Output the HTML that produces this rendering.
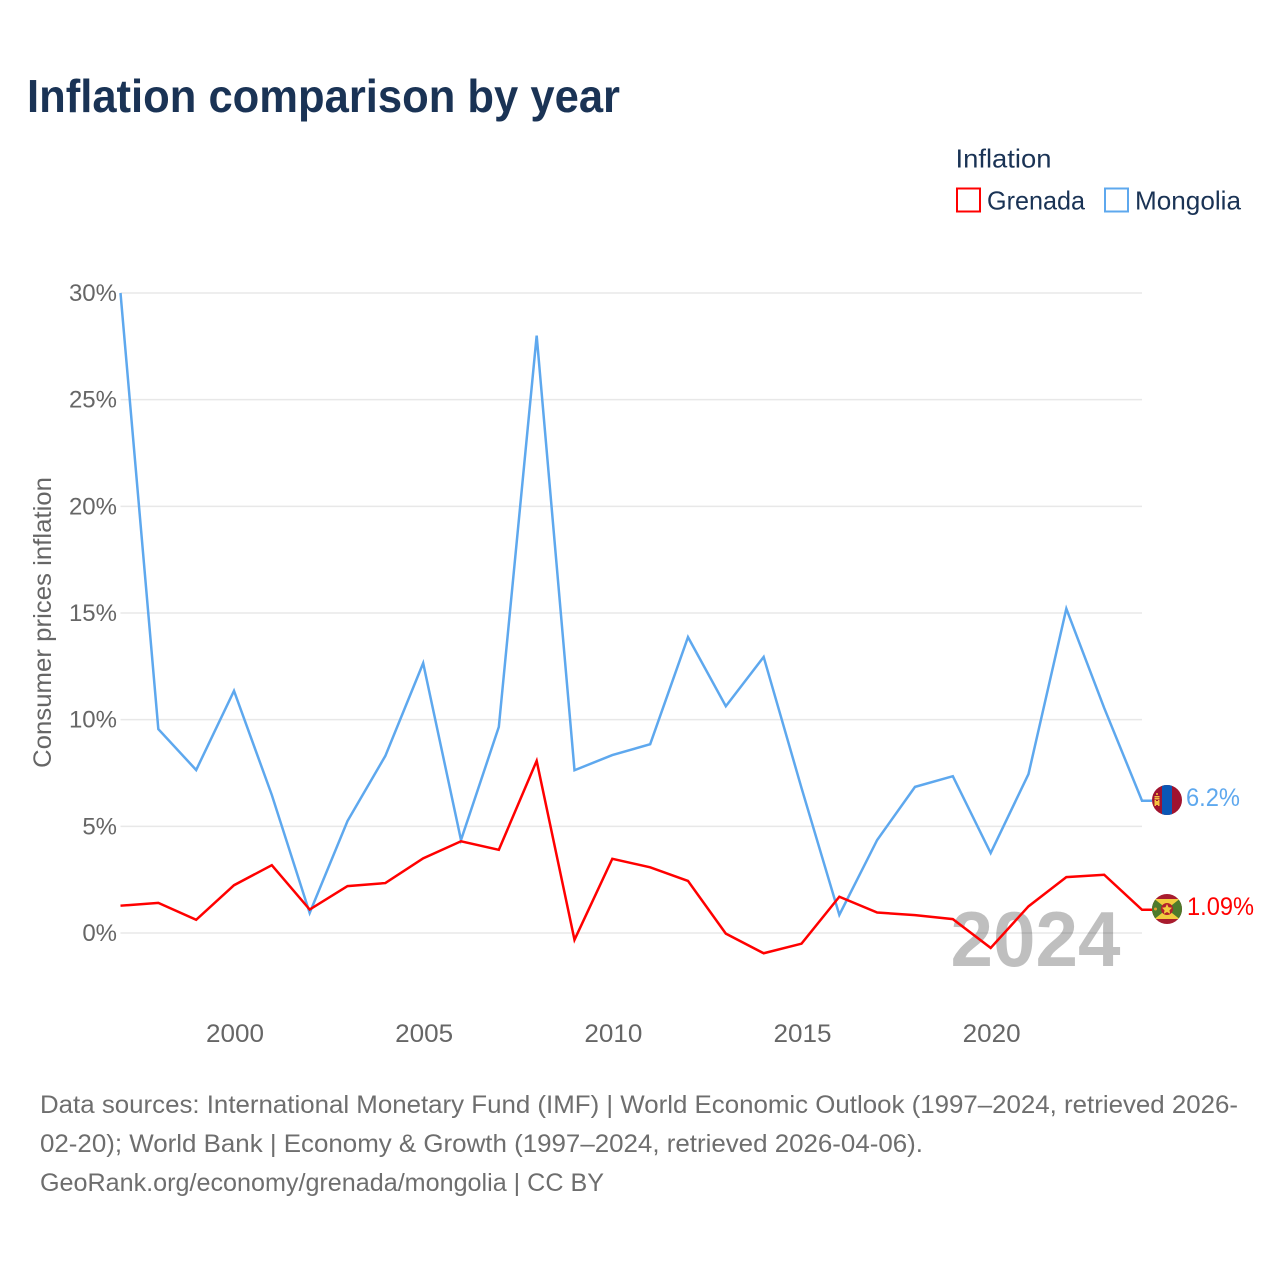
<!DOCTYPE html>
<html lang="en">
<head>
<meta charset="utf-8">
<title>Inflation comparison by year</title>
<style>
html,body{margin:0;padding:0;background:#fff;}
svg{display:block;font-family:"Liberation Sans",sans-serif;}
</style>
</head>
<body>
<svg id="chart" width="1280" height="1280" viewBox="0 0 1280 1280" xmlns="http://www.w3.org/2000/svg">
  <rect width="1280" height="1280" fill="#ffffff"/>
  <text x="27" y="112" font-size="46" font-weight="700" fill="#1a3355" textLength="593" lengthAdjust="spacingAndGlyphs">Inflation comparison by year</text>

  <g>
    <text x="955.500" y="167.500" font-size="26" fill="#1a3355" textLength="96" lengthAdjust="spacingAndGlyphs">Inflation</text>
    <rect x="957" y="188.500" width="23" height="23" fill="none" stroke="#ff0000" stroke-width="2"/>
    <text x="987" y="209.500" font-size="26" fill="#1a3355" textLength="98" lengthAdjust="spacingAndGlyphs">Grenada</text>
    <rect x="1105" y="188.500" width="23" height="23" fill="none" stroke="#5ea8ee" stroke-width="2"/>
    <text x="1135" y="209.500" font-size="26" fill="#1a3355" textLength="106" lengthAdjust="spacingAndGlyphs">Mongolia</text>
  </g>

  <text transform="translate(51,768) rotate(-90)" font-size="25" fill="#666666" textLength="291" lengthAdjust="spacingAndGlyphs">Consumer prices inflation</text>

  <g id="grid"></g>
  <g id="yticks"></g>
  <g id="xticks"></g>

  <text x="1035.500" y="966" text-anchor="middle" font-size="78" font-weight="700" fill="#000000" fill-opacity="0.25" textLength="170" lengthAdjust="spacingAndGlyphs">2024</text>

  <g id="series"></g>

  <defs>
    <clipPath id="flag-clip-mn"><circle cx="1167" cy="800" r="15"/></clipPath>
    <clipPath id="flag-clip-gd"><circle cx="1167" cy="909" r="15"/></clipPath>
  </defs>
  <g id="flag-mongolia" clip-path="url(#flag-clip-mn)">
    <rect x="1152" y="785" width="30" height="30" fill="#a0132f"/>
    <rect x="1162" y="785" width="10" height="30" fill="#0b57b5"/>
    <rect x="1154.500" y="796" width="5" height="1.500" fill="#f5c242"/>
    <rect x="1154.500" y="798" width="5" height="1.500" fill="#f5c242"/>
    <rect x="1154.500" y="800" width="1.500" height="6" fill="#f5c242"/>
    <rect x="1158" y="800" width="1.500" height="6" fill="#f5c242"/>
    <rect x="1156" y="801" width="2" height="4" fill="#f5c242"/>
    <circle cx="1157" cy="794" r="1" fill="#f5c242"/>
  </g>
  <g id="flag-grenada" clip-path="url(#flag-clip-gd)">
    <rect x="1152" y="894" width="30" height="30" fill="#a81c2e"/>
    <rect x="1155" y="899" width="24" height="20" fill="#f2cc3e"/>
    <polygon points="1152,897 1167,909 1152,921" fill="#4e7a2c"/>
    <polygon points="1182,897 1167,909 1182,921" fill="#4e7a2c"/>
    <circle cx="1167" cy="909" r="6" fill="#b3202c"/>
    <polygon points="1167,904 1168.500,907.300 1172,907.800 1169.500,910.200 1170.100,913.800 1167,912 1163.900,913.800 1164.500,910.200 1162,907.800 1165.500,907.300" fill="#f2cc3e"/>
    <circle cx="1155.500" cy="909" r="1.500" fill="#e0a030"/>
  </g>

  <text id="label-mongolia" x="1186" y="806" font-size="25" fill="#5ea8ee" textLength="54" lengthAdjust="spacingAndGlyphs">6.2%</text>
  <text id="label-grenada" x="1187" y="915" font-size="25" fill="#ff0000" textLength="67" lengthAdjust="spacingAndGlyphs">1.09%</text>

  <g font-size="25" fill="#6e6e6e">
    <text x="40" y="1113" textLength="1198" lengthAdjust="spacingAndGlyphs">Data sources: International Monetary Fund (IMF) | World Economic Outlook (1997–2024, retrieved 2026-</text>
    <text x="40" y="1152" textLength="883" lengthAdjust="spacingAndGlyphs">02-20); World Bank | Economy &amp; Growth (1997–2024, retrieved 2026-04-06).</text>
    <text x="40" y="1191" textLength="564" lengthAdjust="spacingAndGlyphs">GeoRank.org/economy/grenada/mongolia | CC BY</text>
  </g>
</svg>
<script>
const years = [1997,1998,1999,2000,2001,2002,2003,2004,2005,2006,2007,2008,2009,2010,2011,2012,2013,2014,2015,2016,2017,2018,2019,2020,2021,2022,2023,2024];
const grenada = [1.28,1.41,0.62,2.24,3.18,1.1,2.2,2.34,3.5,4.3,3.9,8.07,-0.32,3.48,3.08,2.44,-0.03,-0.95,-0.5,1.7,0.96,0.84,0.65,-0.7,1.25,2.62,2.73,1.09];
const mongolia = [30.0,9.56,7.64,11.35,6.47,0.94,5.25,8.3,12.65,4.36,9.66,28.0,7.63,8.34,8.85,13.87,10.63,12.94,6.8,0.85,4.36,6.85,7.35,3.75,7.45,15.2,10.55,6.2];
const yTicks = [0,5,10,15,20,25,30];
const xTicks = [2000,2005,2010,2015,2020];

const NS = 'http://www.w3.org/2000/svg';
function xScale(year){ return 120.5 + (year - 1997) * (1142 - 120.5) / (2024 - 1997); }
function yScale(value){ return 933 - value * (933 - 293) / 30; }

function make(tag, attrs, parent, text){
  const el = document.createElementNS(NS, tag);
  for (const k in attrs) el.setAttribute(k, attrs[k]);
  if (text !== undefined) el.textContent = text;
  parent.appendChild(el);
  return el;
}

const grid = document.getElementById('grid');
const yG = document.getElementById('yticks');
const xG = document.getElementById('xticks');
const seriesG = document.getElementById('series');

yTicks.forEach(function(t){
  const line = make('line', {x1:120.5, x2:1142, y1:yScale(t), y2:yScale(t), stroke:'#e8e8e8', 'stroke-width':1.5}, grid);
  
  
  const label = make('text', {x:117, y:yScale(t)+8, 'text-anchor':'end', 'font-size':24, fill:'#666666'}, yG, t + '%');
  
  
});

xTicks.forEach(function(t){
  const label = make('text', {x:xScale(t)+1, y:1042, 'text-anchor':'middle', 'font-size':25, fill:'#666666', textLength:58, lengthAdjust:'spacingAndGlyphs'}, xG, String(t));
  
  
});

function linePath(values){
  const last = values[values.length - 1];
  return values.map(function(v, i){
    return (i ? 'L' : 'M') + xScale(years[i]).toFixed(2) + ' ' + yScale(v).toFixed(2);
  }).join(' ') + ' L1152 ' + yScale(last).toFixed(2);
}

const mongoliaLine = make('path', {d:linePath(mongolia), fill:'none', stroke:'#5ea8ee', 'stroke-width':2.500, 'stroke-linejoin':'miter'}, seriesG);



const grenadaLine = make('path', {d:linePath(grenada), fill:'none', stroke:'#ff0000', 'stroke-width':2.500, 'stroke-linejoin':'miter'}, seriesG);


</script>
</body>
</html>
